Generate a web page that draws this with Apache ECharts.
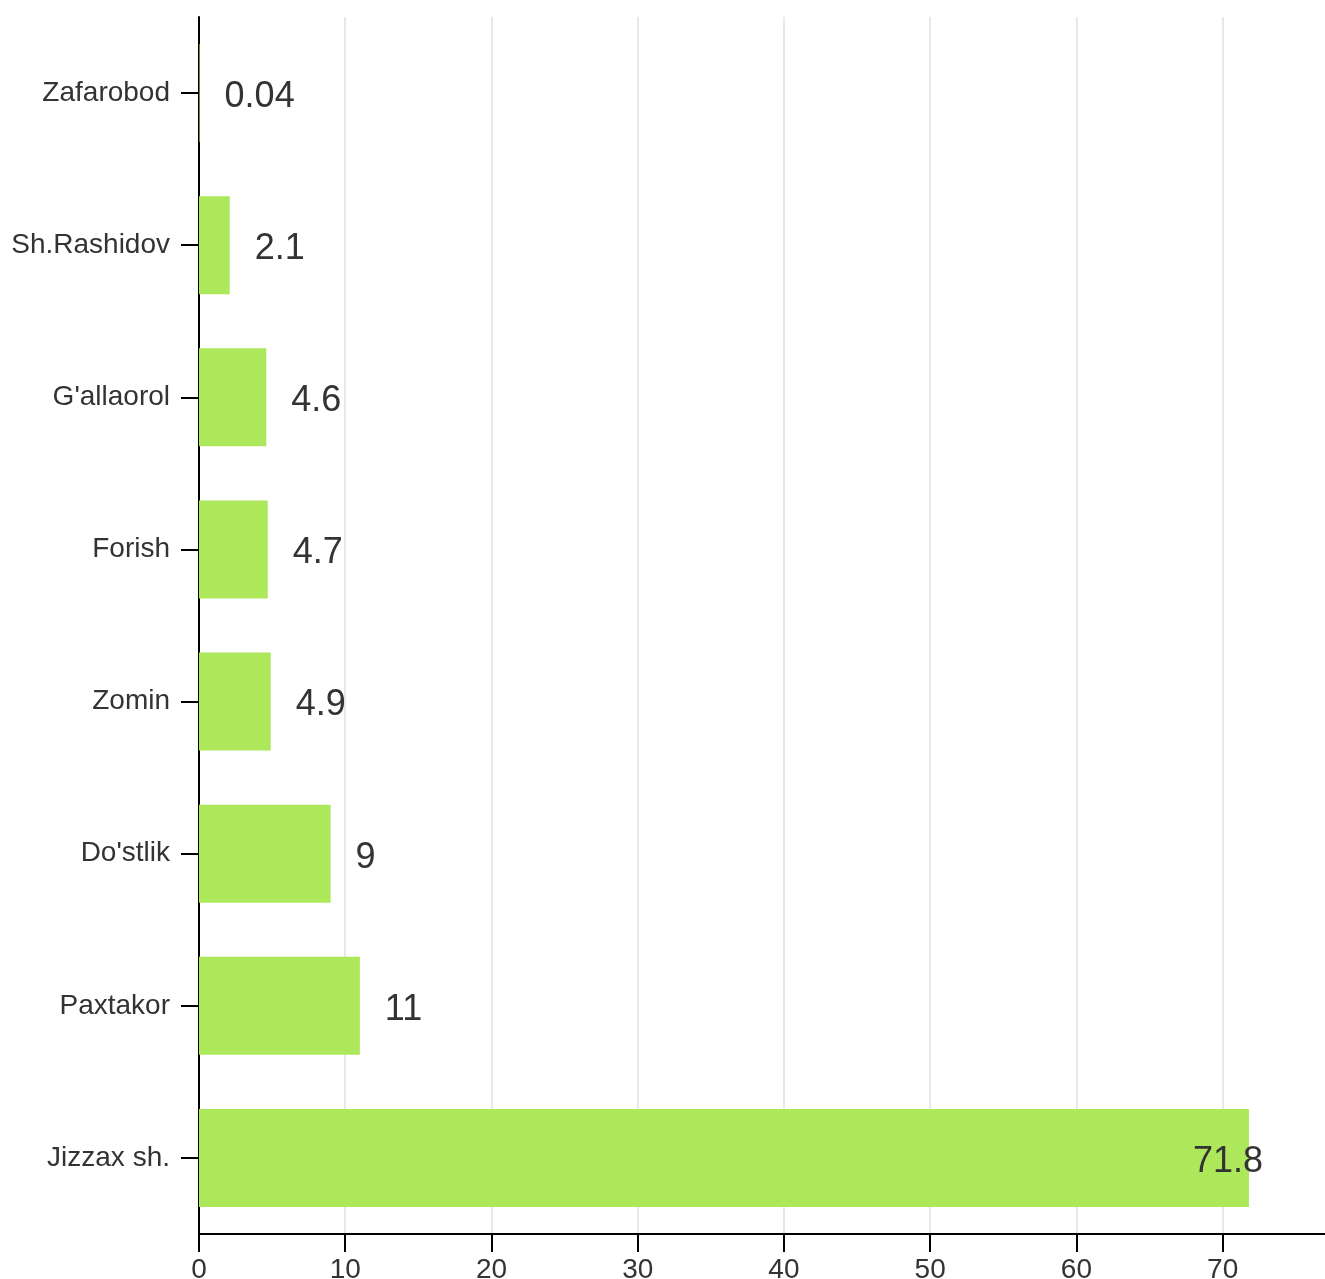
<!DOCTYPE html>
<html>
<head>
<meta charset="utf-8">
<script src="https://cdn.jsdelivr.net/npm/echarts@6/dist/echarts.min.js"></script>
<style>
html,body{margin:0;padding:0;background:#fff;}
#chart{width:1325px;height:1279px;}
</style>
</head>
<body>
<div id="chart"></div>
<script>
const categories = ["Zafarobod", "Sh.Rashidov", "G'allaorol", "Forish", "Zomin", "Do'stlik", "Paxtakor", "Jizzax sh."];
const values = [0.04, 2.1, 4.6, 4.7, 4.9, 9, 11, 71.8];
const xTicks = [0, 10, 20, 30, 40, 50, 60, 70];

const font = "'Liberation Sans', Arial, sans-serif";
const chart = echarts.init(document.getElementById('chart'), null, {renderer: 'canvas'});
const xMax = 77;

const barData = values.map((v, i) => {
  const item = {value: v};
  if (v / xMax > 0.9) {
    item.label = {position: 'insideRight', distance: 5, offset: [19, 4]};
  }
  return item;
});

chart.setOption({
  animation: false,
  backgroundColor: '#fff',
  grid: {left: 199, right: 0, top: 17, bottom: 45, containLabel: false, outerBoundsMode: 'none'},
  xAxis: {
    type: 'value',
    min: 0,
    max: xMax,
    interval: 10,
    axisLine: {show: true, lineStyle: {color: '#000', width: 2}},
    axisTick: {show: true, length: 18, lineStyle: {color: '#000', width: 2},
      customValues: xTicks},
    axisLabel: {fontSize: 28, color: '#333', fontFamily: font, margin: 22,
      customValues: xTicks},
    splitLine: {show: true, lineStyle: {color: '#e0e0e0', width: 1.5}}
  },
  yAxis: {
    type: 'category',
    data: categories,
    inverse: true,
    axisLine: {show: true, lineStyle: {color: '#000', width: 2}},
    axisTick: {show: true, length: 18, alignWithLabel: true, lineStyle: {color: '#000', width: 2}},
    axisLabel: {fontSize: 28, color: '#333', fontFamily: font, margin: 29, padding: [4, 0, 0, 0]},
    splitLine: {show: false}
  },
  series: [{
    type: 'bar',
    data: barData,
    barWidth: 98,
    itemStyle: {color: '#ade75a'},
    label: {
      show: true,
      position: 'right',
      distance: 25,
      fontSize: 36,
      color: '#333',
      fontFamily: font,
      offset: [0, 4]
    }
  }]
});
</script>
</body>
</html>
